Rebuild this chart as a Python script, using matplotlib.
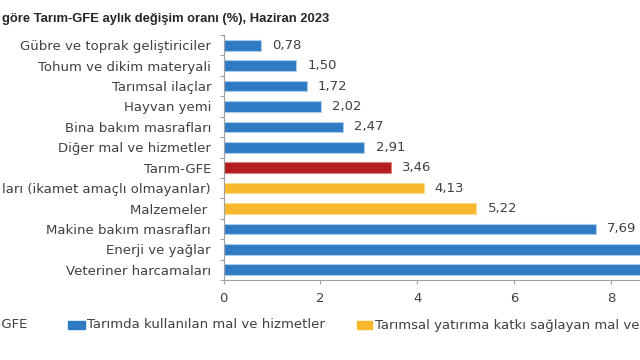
import matplotlib
matplotlib.use('Agg')
import matplotlib.pyplot as plt
from matplotlib.patches import Rectangle

plt.rcParams['font.family'] = ['DejaVu Sans']

# veriler (Haziran 2023, aylık değişim %)
categories = [
    'Gübre ve toprak geliştiriciler',
    'Tohum ve dikim materyali',
    'Tarımsal ilaçlar',
    'Hayvan yemi',
    'Bina bakım masrafları',
    'Diğer mal ve hizmetler',
    'Tarım-GFE',
    'ları (ikamet amaçlı olmayanlar)',
    'Malzemeler ',
    'Makine bakım masrafları',
    'Enerji ve yağlar',
    'Veteriner harcamaları',
]
values = [0.78, 1.50, 1.72, 2.02, 2.47, 2.91, 3.46, 4.13, 5.22, 7.69, 9.45, 10.60]
groups = ['mal', 'mal', 'mal', 'mal', 'mal', 'mal', 'gfe', 'yat', 'yat', 'mal', 'mal', 'mal']
xticks = [0, 2, 4, 6, 8]

colors = {'mal': '#2E7BC4', 'gfe': '#B51E1E', 'yat': '#F8B82B'}
edges = {'mal': '#A9CDEB', 'gfe': '#D98080', 'yat': '#FBDA8E'}
legend_items = [('Tarım-GFE', 'gfe'),
                ('Tarımda kullanılan mal ve hizmetler', 'mal'),
                ('Tarımsal yatırıma katkı sağlayan mal ve hizmetler', 'yat')]

W, H = 640, 360
txt = '#404040'

fig = plt.figure(figsize=(6.4, 3.6), dpi=100)
fig.patch.set_facecolor('white')

# eksen: 0 -> x=223.5 px, 1 birim ~48.45 px ; grafik sağdan kesik
x0, ppu = 223.5, 48.45
xmax = 11.0
visible = (W - x0) / ppu
ax = fig.add_axes([x0 / W, (H - 280) / H, xmax * ppu / W, 245 / H])

ypos = list(range(len(categories)))
for y, v, g in zip(ypos, values, groups):
    ax.barh(y, v, height=0.52, color=colors[g], edgecolor=edges[g], linewidth=0.8)
    if v < visible - 0.8:
        ax.annotate(f'{v:.2f}'.replace('.', ','), xy=(v, y), xytext=(8, 0),
                    textcoords='offset points', va='center', ha='left',
                    fontsize=9.5, color=txt, annotation_clip=False)

ax.set_xlim(0, xmax)
ax.set_ylim(len(categories) - 0.5, -0.5)
ax.set_yticks(ypos)
ax.set_yticklabels(categories, fontsize=9.5, color=txt)
ax.set_yticks([i + 0.5 for i in range(-1, len(categories))], minor=True)
ax.tick_params(axis='y', which='major', length=0, pad=9)
ax.tick_params(axis='y', which='minor', length=3, color='#A0A0A0', width=0.8)
ax.set_xticks(xticks)
ax.set_xticklabels([str(t) for t in xticks], fontsize=9.5, color=txt)
ax.tick_params(axis='x', length=3, color='#A0A0A0', width=0.8, pad=6)

for s in ['top', 'right']:
    ax.spines[s].set_visible(False)
for s in ['left', 'bottom']:
    ax.spines[s].set_color('#A0A0A0')
    ax.spines[s].set_linewidth(0.8)

# başlık (solu kesik)
fig.text(2 / W, 1 - 22 / H, 'göre Tarım-GFE aylık değişim oranı (%), Haziran 2023',
         fontsize=9.4, fontweight='bold', color='#262626', ha='left', va='baseline',
         family='Liberation Sans')

# lejant (elle yerleştirildi, solu ve sağı kesik)
leg_y = 325
fig.text(27 / W, 1 - leg_y / H, legend_items[0][0], fontsize=9.5, color=txt,
         ha='right', va='center')
fig.patches.append(Rectangle((-60 / W, 1 - 329 / H), 15 / W, 8 / H,
                             transform=fig.transFigure, color=colors[legend_items[0][1]]))
fig.patches.append(Rectangle((68 / W, 1 - 329 / H), 17 / W, 8 / H,
                             transform=fig.transFigure, color=colors[legend_items[1][1]]))
fig.text(87 / W, 1 - leg_y / H, legend_items[1][0], fontsize=9.5, color=txt,
         ha='left', va='center')
fig.patches.append(Rectangle((357 / W, 1 - 329 / H), 15 / W, 8 / H,
                             transform=fig.transFigure, color=colors[legend_items[2][1]]))
fig.text(375 / W, 1 - leg_y / H, legend_items[2][0], fontsize=9.5, color=txt,
         ha='left', va='center')

fig.savefig('out.png', dpi=100)
plt.close(fig)
